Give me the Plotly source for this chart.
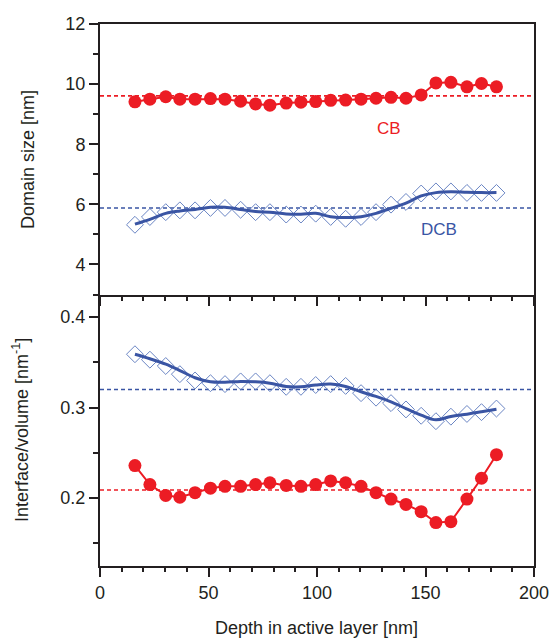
import plotly.graph_objects as go

# Depth positions of the measured slices [nm]
depth = [16.1, 23.0, 30.3, 36.8, 43.8, 50.9, 57.6, 64.8, 71.7, 78.3, 85.8, 92.6,
         99.4, 106.3, 113.2, 120.3, 127.2, 134.1, 141.0, 148.0, 154.8, 161.7,
         169.1, 175.8, 182.7]

# Domain size [nm]
cb_size = [9.41, 9.50, 9.58, 9.50, 9.50, 9.52, 9.50, 9.43, 9.34, 9.30, 9.37, 9.40,
           9.42, 9.46, 9.47, 9.50, 9.53, 9.56, 9.53, 9.64, 10.04, 10.06, 9.91,
           10.02, 9.91]
dcb_size = [5.32, 5.58, 5.74, 5.80, 5.80, 5.88, 5.88, 5.82, 5.74, 5.74, 5.66, 5.66,
            5.69, 5.58, 5.52, 5.58, 5.74, 5.99, 6.08, 6.36, 6.43, 6.43, 6.38,
            6.38, 6.38]
dcb_size_smooth = [5.34, 5.50, 5.70, 5.78, 5.83, 5.90, 5.90, 5.83, 5.76, 5.74, 5.68,
                   5.67, 5.70, 5.59, 5.56, 5.59, 5.70, 5.87, 6.04, 6.28, 6.39, 6.42,
                   6.40, 6.39, 6.39]

# Interface/volume [1/nm]
cb_iv = [0.236, 0.215, 0.203, 0.201, 0.206, 0.211, 0.213, 0.213, 0.215, 0.217,
         0.214, 0.213, 0.215, 0.219, 0.217, 0.213, 0.206, 0.199, 0.193, 0.185,
         0.173, 0.174, 0.199, 0.222, 0.248]
dcb_iv = [0.359, 0.353, 0.346, 0.337, 0.330, 0.327, 0.326, 0.329, 0.329, 0.327,
          0.323, 0.323, 0.325, 0.326, 0.324, 0.316, 0.311, 0.305, 0.298, 0.291,
          0.285, 0.290, 0.293, 0.295, 0.299]
dcb_iv_smooth = [0.359, 0.354, 0.348, 0.341, 0.333, 0.3285, 0.328, 0.329, 0.3285,
                 0.327, 0.3234, 0.323, 0.325, 0.326, 0.3234, 0.3175, 0.3124, 0.3064,
                 0.299, 0.2917, 0.2865, 0.2903, 0.2928, 0.2954, 0.2983]

# Mean values (dashed reference levels)
cb_size_mean, dcb_size_mean = 9.61, 5.88
cb_iv_mean, dcb_iv_mean = 0.209, 0.320
depth_span = [0, 200]

RED = "#ec1c24"
BLUE = "#3a55a4"
BLUE_LIGHT = "#6a85c4"
INK = "#231f20"
FONT = "Arial, Liberation Sans, Helvetica, sans-serif"

fig = go.Figure()

# Upper panel: domain size
fig.add_trace(go.Scatter(x=depth_span, y=[cb_size_mean] * 2, mode="lines",
                         line=dict(color=RED, width=1.6, dash="4px,3px"),
                         xaxis="x2", yaxis="y2", hoverinfo="skip"))
fig.add_trace(go.Scatter(x=depth_span, y=[dcb_size_mean] * 2, mode="lines",
                         line=dict(color=BLUE, width=1.6, dash="4px,3px"),
                         xaxis="x2", yaxis="y2", hoverinfo="skip"))
fig.add_trace(go.Scatter(x=depth, y=dcb_size, mode="markers",
                         marker=dict(symbol="diamond-open", size=13,
                                     color=BLUE_LIGHT, line=dict(width=1)),
                         xaxis="x2", yaxis="y2"))
fig.add_trace(go.Scatter(x=depth, y=dcb_size_smooth, mode="lines",
                         line=dict(color=BLUE, width=3, shape="spline"),
                         xaxis="x2", yaxis="y2"))
fig.add_trace(go.Scatter(x=depth, y=cb_size, mode="lines+markers",
                         line=dict(color=RED, width=2),
                         marker=dict(symbol="circle", size=13, color=RED),
                         xaxis="x2", yaxis="y2"))

# Lower panel: interface/volume ratio
fig.add_trace(go.Scatter(x=depth_span, y=[cb_iv_mean] * 2, mode="lines",
                         line=dict(color=RED, width=1.6, dash="4px,3px"),
                         hoverinfo="skip"))
fig.add_trace(go.Scatter(x=depth_span, y=[dcb_iv_mean] * 2, mode="lines",
                         line=dict(color=BLUE, width=1.6, dash="4px,3px"),
                         hoverinfo="skip"))
fig.add_trace(go.Scatter(x=depth, y=dcb_iv, mode="markers",
                         marker=dict(symbol="diamond-open", size=13,
                                     color=BLUE_LIGHT, line=dict(width=1))))
fig.add_trace(go.Scatter(x=depth, y=dcb_iv_smooth, mode="lines",
                         line=dict(color=BLUE, width=3, shape="spline")))
fig.add_trace(go.Scatter(x=depth, y=cb_iv, mode="lines+markers",
                         line=dict(color=RED, width=2),
                         marker=dict(symbol="circle", size=13, color=RED)))

split = 0.5009
axis_common = dict(showline=True, linecolor=INK, linewidth=2,
                   ticks="outside", ticklen=9, tickwidth=2, tickcolor=INK,
                   showgrid=False, zeroline=False, automargin=False,
                   tickfont=dict(family=FONT, size=18, color=INK))
title_font = dict(family=FONT, size=18, color=INK)

fig.update_layout(
    width=553, height=638,
    margin=dict(l=100, r=19, t=24, b=72),
    paper_bgcolor="white", plot_bgcolor="white",
    showlegend=False,
    font=dict(family=FONT, color=INK, size=18),
    xaxis=dict(range=[0, 200], dtick=50, anchor="y", mirror=False,
               minor=dict(dtick=10, ticklen=4, tickwidth=2, tickcolor=INK,
                          ticks="outside"),
               **axis_common),
    xaxis2=dict(range=[0, 200], dtick=50, anchor="y2", matches="x", mirror=True,
                showticklabels=False,
                minor=dict(dtick=10, ticklen=4, tickwidth=2, tickcolor=INK,
                           ticks="outside"),
                **axis_common),
    yaxis=dict(range=[0.125, 0.425], domain=[0, split], dtick=0.1, anchor="x",
               tickformat=".1f", mirror=True,
               minor=dict(dtick=0.05, ticklen=5, tickwidth=2, tickcolor=INK,
                          ticks="outside"),
               **axis_common),
    yaxis2=dict(range=[3, 12], domain=[split, 1], dtick=2, anchor="x2",
                mirror=True,
                minor=dict(dtick=1, ticklen=5, tickwidth=2, tickcolor=INK,
                           ticks="outside"),
                **axis_common),
    annotations=[
        dict(x=133, y=8.54, xref="x2", yref="y2", text="CB", showarrow=False,
             font=dict(family=FONT, size=17, color=RED)),
        dict(x=156.4, y=5.15, xref="x2", yref="y2", text="DCB", showarrow=False,
             font=dict(family=FONT, size=17, color=BLUE)),
        # axis titles
        dict(x=0.4977, y=-0.1144, xref="paper", yref="paper",
             text="Depth in active layer [nm]", showarrow=False,
             xanchor="center", yanchor="middle", font=title_font),
        dict(x=-0.1659, y=0.7509, xref="paper", yref="paper",
             text="Domain size [nm]", showarrow=False, textangle=-90,
             xanchor="center", yanchor="middle", font=title_font),
        dict(x=-0.1843, y=0.2509, xref="paper", yref="paper",
             text="Interface/volume [nm<sup>-1</sup>]", showarrow=False,
             textangle=-90, xanchor="center", yanchor="middle", font=title_font),
    ],
)

fig.write_html("out.html")
